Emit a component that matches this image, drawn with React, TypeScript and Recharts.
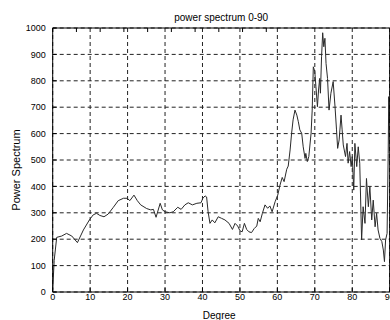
import { LineChart, Line, XAxis, YAxis, CartesianGrid } from "recharts";

// degree / power pairs
const degrees = [
  0, 0.4, 1.07, 2.4, 3.7, 5.1, 6.6, 8.2, 9.8, 10.8, 11.7, 12.6, 13.7, 14.8, 16.2, 17.5, 18.9, 19.9,
  20.6, 21.7, 22.6, 23.5, 25.1, 26.2, 26.9, 27.6, 28.7, 29.3, 30.0, 31.3, 32.2, 33.4, 34.3, 35.3,
  36.2, 37.3, 38.5, 39.6, 40.1, 40.7, 41.1, 41.5, 42.0, 42.6, 43.3, 44.2, 45.1, 46.0, 47.1, 48.0,
  48.7, 49.4, 50.0, 50.6, 51.2, 51.8, 52.4, 53.1, 53.8, 54.5, 54.9, 55.4, 56.0, 56.7, 57.4, 58.0,
  58.6, 59.4, 60.1, 60.7, 61.3, 61.8, 62.5, 62.9, 63.4, 63.8, 64.2, 64.7, 65.2, 65.6, 66.0, 66.5,
  66.9, 67.4, 67.6, 68.0, 68.4, 69.0, 69.3, 69.6, 70.0, 70.3, 70.7, 71.0, 71.3, 71.5, 71.8, 72.1,
  72.4, 72.7, 73.0, 73.4, 73.8, 74.3, 74.9, 75.4, 75.8, 76.1, 76.5, 77.0, 77.3, 77.6, 78.2, 78.6,
  78.9, 79.3, 79.7, 80.0, 80.4, 80.7, 81.2, 81.6, 82.0, 82.5, 82.9, 83.4, 83.8, 84.3, 84.7, 85.2,
  85.6, 86.1, 86.5, 86.9, 87.4, 87.9, 88.3, 88.6, 88.9, 89.3, 89.6, 89.75, 89.9,
];
const power = [
  8, 120, 207, 212, 222, 212, 187, 235, 273, 292, 298, 290, 285, 295, 321, 346, 355, 355,
  346, 367, 346, 330, 316, 311, 313, 283, 336, 311, 304, 300, 304, 321, 313, 330,
  338, 330, 336, 338, 355, 364, 360, 304, 260, 273, 262, 285, 279, 273, 260, 237,
  260, 250, 232, 228, 260, 237, 228, 225, 240, 250, 279, 266, 298, 330, 317, 326,
  304, 342, 367, 405, 434, 418, 465, 477, 538, 601, 652, 689, 670, 645, 614, 601,
  550, 506, 525, 494, 513, 601, 689, 853, 835, 778, 702, 765, 809, 753, 891, 982,
  929, 961, 866, 809, 689, 753, 797, 702, 614, 544, 576, 670, 614, 557, 513, 563,
  488, 532, 475, 513, 386, 563, 475, 550, 488, 197, 323, 260, 430, 323, 399, 273,
  348, 247, 298, 235, 203, 191, 159, 115, 197, 222, 525, 740, 640,
];
const xTicks = [0, 10, 20, 30, 40, 50, 60, 70, 80, 90];
const yTicks = [0, 100, 200, 300, 400, 500, 600, 700, 800, 900, 1000];

const data = degrees.map((deg, i) => ({ deg, power: power[i] }));

const font = "'Liberation Sans', Arial, sans-serif";
const tickStyle = { fill: "#000", fontSize: 9, fontFamily: font };

export default function App() {
  return (
    <div
      style={{
        position: "fixed",
        left: 0,
        top: 0,
        width: 390,
        height: 320,
        overflow: "hidden",
        background: "#fff",
      }}
    >
      <LineChart
        width={420}
        height={320}
        data={data}
        margin={{ top: 27, right: 29.3, bottom: 0, left: 0 }}
      >
        <CartesianGrid stroke="#222" strokeDasharray="4 3" />
        <XAxis
          dataKey="deg"
          type="number"
          domain={[0, 90]}
          ticks={xTicks}
          interval={0}
          height={28}
          stroke="#000"
          tickSize={-4}
          tickMargin={6}
          tick={tickStyle}
          label={{
            content: ({ viewBox }: any) => (
              <text
                x={viewBox.x + viewBox.width / 2 - 2}
                y={viewBox.y + 23}
                textAnchor="middle"
                dominantBaseline="central"
                fontSize={10}
                fontFamily={font}
                fill="#000"
              >
                Degree
              </text>
            ),
          }}
        />
        <XAxis
          xAxisId="top"
          orientation="top"
          type="number"
          domain={[0, 90]}
          ticks={xTicks}
          interval={0}
          height={1}
          stroke="#000"
          tickSize={-4}
          tickFormatter={() => ""}
          label={{
            content: ({ viewBox }: any) => (
              <text
                x={viewBox.x + viewBox.width / 2}
                y={viewBox.y - 9.5}
                textAnchor="middle"
                dominantBaseline="central"
                fontSize={10}
                fontFamily={font}
                fill="#000"
              >
                power spectrum 0-90
              </text>
            ),
          }}
        />
        <YAxis
          type="number"
          domain={[0, 1000]}
          ticks={yTicks}
          interval={0}
          width={52.7}
          stroke="#000"
          tickSize={-4}
          tickMargin={11}
          tick={tickStyle}
          label={{
            content: () => (
              <text
                x={15.5}
                y={170}
                transform="rotate(-90 15.5 170)"
                textAnchor="middle"
                dominantBaseline="central"
                fontSize={11}
                fontFamily={font}
                fill="#000"
              >
                Power Spectrum
              </text>
            ),
          }}
        />
        <YAxis
          yAxisId="right"
          orientation="right"
          type="number"
          domain={[0, 1000]}
          ticks={yTicks}
          interval={0}
          width={1}
          stroke="#000"
          tickSize={-4}
          tickFormatter={() => ""}
        />
        <Line
          type="linear"
          dataKey="power"
          stroke="#2a2a2a"
          strokeWidth={1}
          dot={false}
          isAnimationActive={false}
        />
      </LineChart>
    </div>
  );
}
